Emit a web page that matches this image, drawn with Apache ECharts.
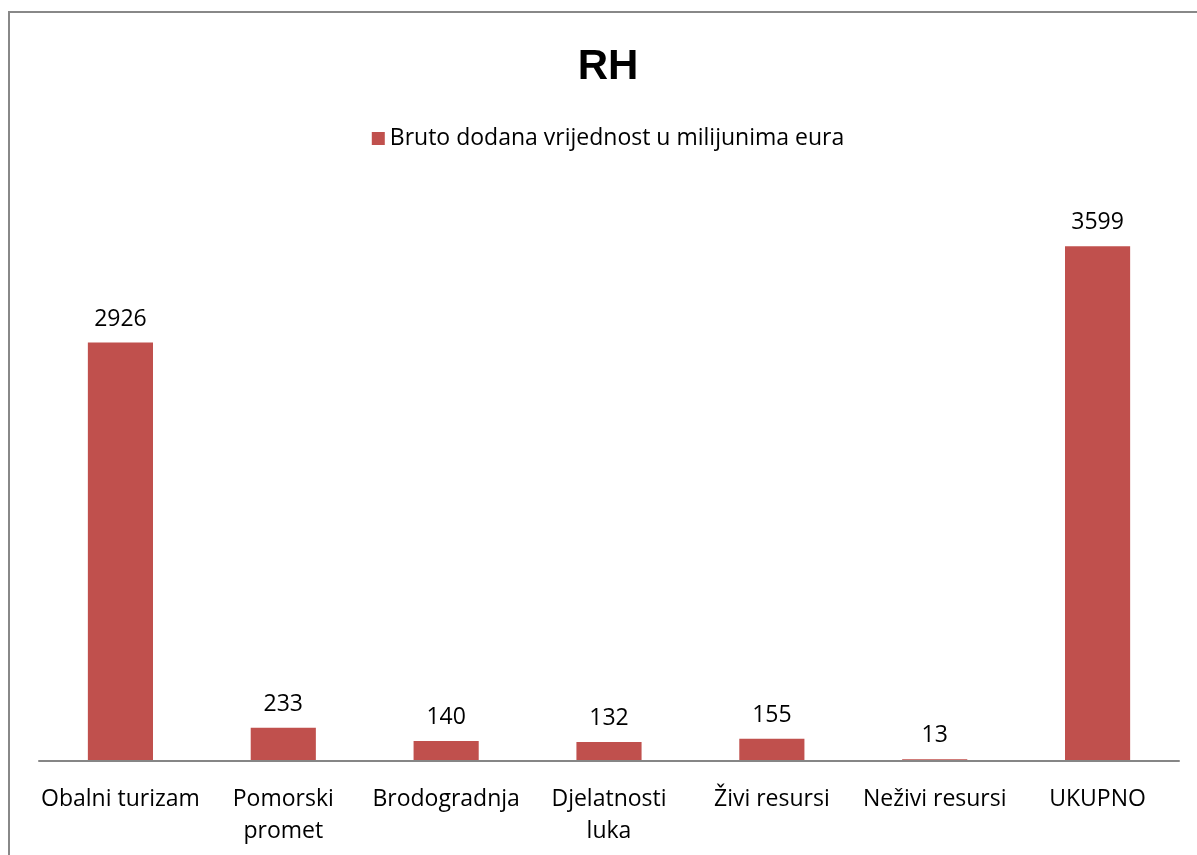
<!DOCTYPE html>
<html>
<head>
<meta charset="utf-8">
<script src="https://cdn.jsdelivr.net/npm/echarts@6/dist/echarts.min.js"></script>
<style>
  html, body { margin: 0; padding: 0; background: #fff; overflow: hidden; }
  #chart { width: 1216px; height: 855px; }
</style>
</head>
<body>
<div id="chart"></div>
<script>
// categories and values
const categories = ['Obalni turizam', 'Pomorski\npromet', 'Brodogradnja', 'Djelatnosti\nluka', 'Živi resursi', 'Neživi resursi', 'UKUPNO']
const values = [2926, 233, 140, 132, 155, 13, 3599]
const seriesName = 'Bruto dodana vrijednost u milijunima eura'

const font = 'Open Sans'
const chart = echarts.init(document.getElementById('chart'))
chart.setOption({
  animation: false,
  // outer frame like the spreadsheet chart area (runs off the right and bottom edge)
  graphic: [{
    type: 'rect',
    shape: { x: 9, y: 12, width: 1400, height: 1000 },
    style: { fill: 'none', stroke: '#888', lineWidth: 2 },
    silent: true
  }],
  title: {
    text: 'RH',
    left: 'center',
    top: 41,
    textStyle: { fontFamily: 'Liberation Sans', fontWeight: 'bold', fontSize: 42, color: '#000' }
  },
  legend: {
    data: [seriesName],
    top: 122,
    left: 'center',
    itemWidth: 13,
    itemHeight: 13,
    itemGap: 8,
    icon: 'rect',
    textStyle: { fontFamily: font, fontSize: 23, color: '#000' }
  },
  grid: { left: 39, right: 37, top: 189, bottom: 94 },
  xAxis: {
    type: 'category',
    data: categories,
    z: 3,
    axisLine: { lineStyle: { color: '#868686', width: 2 } },
    axisTick: { show: false },
    axisLabel: {
      interval: 0,
      margin: 22,
      lineHeight: 32,
      fontFamily: font,
      fontSize: 23,
      color: '#000'
    }
  },
  yAxis: {
    type: 'value',
    min: 0,
    max: 4000,
    show: false,
    splitLine: { show: false }
  },
  series: [{
    name: seriesName,
    type: 'bar',
    data: values,
    barWidth: '40%',
    itemStyle: { color: '#C0504D' },
    label: {
      show: true,
      position: 'top',
      distance: 12,
      fontFamily: font,
      fontSize: 23,
      color: '#000'
    }
  }]
})
</script>
</body>
</html>
